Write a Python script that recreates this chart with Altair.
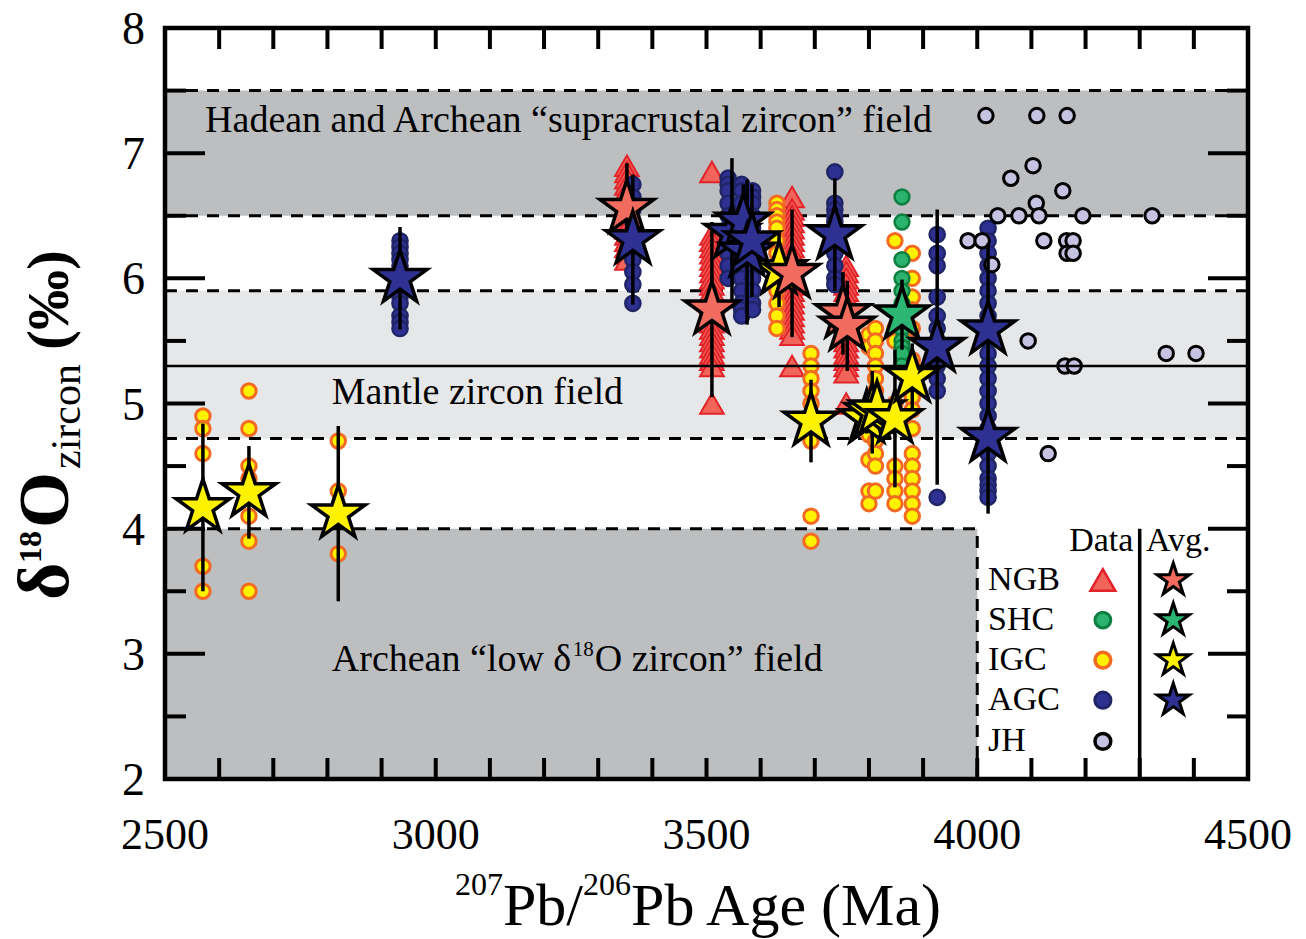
import altair as alt
import pandas as pd

# ---------------- measurements: 207Pb/206Pb age (Ma) vs. zircon d18O (permil) ----------------
# NGB (triangles)
ngb_ages = [3353, 3510, 3658, 3758]
ngb_d18o = [
    [6.90, 6.85, 6.80, 6.75, 6.70, 6.65, 6.60, 6.55, 6.50, 6.45, 6.40, 6.35, 6.30, 6.25, 6.20, 6.15],
    [6.85, 6.35, 6.30, 6.25, 6.20, 6.15, 6.10, 6.05, 6.00, 5.95, 5.90, 5.85, 5.80, 5.75, 5.70,
     5.65, 5.60, 5.55, 5.50, 5.45, 5.40, 5.35, 5.30, 5.00],
    [6.65, 6.55, 6.50, 6.45, 6.40, 6.35, 6.30, 6.25, 6.20, 6.15, 6.10, 6.05, 6.00, 5.95, 5.90,
     5.85, 5.80, 5.75, 5.70, 5.65, 5.60, 5.55, 5.30],
    [6.10, 6.05, 6.00, 5.95, 5.90, 5.85, 5.80, 5.75, 5.70, 5.65, 5.60, 5.55, 5.50, 5.45, 5.40,
     5.35, 5.30, 5.25, 5.00],
]
# SHC
shc_ages = [3861]
shc_d18o = [[6.65, 6.45, 6.15, 6.00, 5.90, 5.80, 5.70, 5.60, 5.50, 5.45, 5.40, 5.30]]
# IGC
igc_ages = [2570, 2655, 2820, 3630, 3693, 3800, 3812, 3848, 3880]
igc_d18o = [
    [4.90, 4.80, 4.60, 3.70, 3.50],
    [5.10, 4.80, 4.50, 4.40, 4.30, 4.10, 3.90, 3.50],
    [4.70, 4.30, 3.80],
    [6.60, 6.55, 6.50, 6.45, 6.40, 6.30, 6.20, 6.10, 6.00, 5.90, 5.80, 5.70, 5.60],
    [5.40, 5.30, 5.20, 5.10, 5.00, 4.90, 4.80, 4.70, 4.10, 3.90],
    [5.55, 5.45, 4.80, 4.75, 4.55, 4.30, 4.20],
    [5.60, 5.50, 5.40, 5.30, 5.20, 5.10, 5.00, 4.70, 4.60, 4.50, 4.30],
    [6.30, 5.60, 5.50, 5.00, 4.90, 4.50, 4.40, 4.30, 4.20],
    [6.20, 6.00, 5.85, 5.75, 5.60, 5.35, 5.30, 5.05, 4.95, 4.80, 4.60, 4.50, 4.40, 4.30, 4.20, 4.10],
]
# AGC
agc_ages = [2934, 3364, 3540, 3565, 3585, 3737, 3926, 4020]
agc_d18o = [
    [6.30, 6.25, 6.20, 6.15, 6.10, 6.00, 5.95, 5.90, 5.85, 5.80, 5.70, 5.65, 5.60],
    [6.75, 6.65, 6.55, 6.45, 6.35, 6.25, 6.15, 6.05, 5.95, 5.80],
    [6.80, 6.75, 6.70, 6.60, 6.50, 6.40, 6.30, 6.20, 6.10, 6.00],
    [6.75, 6.70, 6.60, 6.50, 6.40, 6.30, 6.20, 6.10, 6.00, 5.90, 5.80, 5.75, 5.70],
    [6.70, 6.65, 6.60, 6.50, 6.40, 6.30, 6.20, 6.10, 6.00, 5.90, 5.80, 5.75],
    [6.85, 6.60, 6.55, 6.50, 6.45, 6.40, 6.30, 6.20, 6.10, 6.00, 5.95],
    [6.35, 6.20, 6.10, 5.85, 5.70, 5.60, 5.50, 5.40, 5.30, 5.20, 5.10, 4.25],
    [6.40, 6.30, 6.20, 6.10, 6.00, 5.90, 5.80, 5.70, 5.60, 5.50, 5.40, 5.30, 5.20, 5.10, 5.00,
     4.90, 4.80, 4.70, 4.60, 4.50, 4.40, 4.35, 4.30, 4.25],
]
# JH (individual grains)
jh_ages = [4016, 4110, 4166, 4103, 4062, 4158, 4109, 4038, 4077, 4114, 4195, 4323, 3983,
           4009, 4123, 4165, 4177, 4166, 4177, 4027, 4094, 4162, 4179, 4349, 4404, 4131]
jh_d18o = [7.30, 7.30, 7.30, 6.90, 6.80, 6.70, 6.60, 6.50, 6.50, 6.50, 6.50, 6.50, 6.30,
           6.30, 6.30, 6.30, 6.30, 6.20, 6.20, 6.11, 5.50, 5.30, 5.30, 5.40, 5.40, 4.60]

# Sample averages with 1-sigma spread
ngb_avg_age = [3353, 3510, 3658, 3752, 3760]
ngb_avg = [6.56, 5.75, 6.04, 5.72, 5.62]
ngb_err = [0.36, 0.70, 0.51, 0.33, 0.36]

shc_avg_age = [3861]
shc_avg = [5.71]
shc_err = [0.28]

igc_avg_age = [2570, 2655, 2820, 3634, 3693, 3796, 3806, 3815, 3848, 3880]
igc_avg = [4.17, 4.29, 4.12, 6.07, 4.86, 4.88, 4.93, 4.95, 4.88, 5.21]
igc_err = [0.67, 0.37, 0.70, 0.30, 0.33, 0.12, 0.33, 0.19, 0.55, 0.27]

agc_avg_age = [2934, 3364, 3547, 3568, 3575, 3584, 3737, 3926, 4020, 4020]
agc_avg = [6.00, 6.31, 6.36, 6.45, 6.21, 6.30, 6.35, 5.45, 5.59, 4.73]
agc_err = [0.41, 0.52, 0.60, 0.30, 0.58, 0.45, 0.45, 1.10, 0.69, 0.61]

# Reference fields
supracrustal_field = [6.5, 7.5]
mantle_field = [4.72, 5.9]
mantle_mean = 5.3
low_field_age = [2500, 4000]
low_field_d18o = [2.0, 4.0]

x_ticks = [2500, 3000, 3500, 4000, 4500]
y_ticks = [2, 3, 4, 5, 6, 7, 8]
x_minor_ticks = [2600, 2700, 2800, 2900, 3100, 3200, 3300, 3400, 3600, 3700,
                 3800, 3900, 4100, 4200, 4300, 4400]
y_minor_ticks = [2.5, 3.5, 4.5, 5.5, 6.5, 7.5]

# ---------------- styling ----------------
FONT = "Liberation Serif"
W, H = 1083, 751
DARK_GREY = "#bcbec0"
LIGHT_GREY = "#e6e7e8"
STAR = ("M0,-1L0.2245,-0.309L0.9511,-0.309L0.3633,0.118L0.5878,0.809L0,0.382"
        "L-0.5878,0.809L-0.3633,0.118L-0.9511,-0.309L-0.2245,-0.309Z")

XS = alt.Scale(domain=[2500, 4500], nice=False, zero=False)
YS = alt.Scale(domain=[2, 8], nice=False, zero=False)


def X(field):
    return alt.X(f"{field}:Q", scale=XS, axis=None)


def Y(field):
    return alt.Y(f"{field}:Q", scale=YS, axis=None)


def expand(ages, cols):
    rows = []
    for a, vals in zip(ages, cols):
        for v in vals:
            rows.append({"age": a, "d18o": v})
    return pd.DataFrame(rows)


def averages(ages, vals, errs):
    return pd.DataFrame({"age": ages, "d18o": vals,
                         "lo": [v - e for v, e in zip(vals, errs)],
                         "hi": [v + e for v, e in zip(vals, errs)]})


one = alt.Data(values=[{}])

# ---------------- background fields ----------------
bands_df = pd.DataFrame({
    "x0": [2500, 2500, low_field_age[0]],
    "x1": [4500, 4500, low_field_age[1]],
    "y0": [supracrustal_field[0], mantle_field[0], low_field_d18o[0]],
    "y1": [supracrustal_field[1], mantle_field[1], low_field_d18o[1]],
    "fill": [DARK_GREY, LIGHT_GREY, DARK_GREY],
})
bands = alt.Chart(bands_df).mark_rect().encode(
    x=X("x0"), x2="x1:Q", y=Y("y0"), y2="y1:Q",
    color=alt.Color("fill:N", scale=None),
)

dash_h = pd.DataFrame({
    "y": [supracrustal_field[1], supracrustal_field[0], mantle_field[1], mantle_field[0], low_field_d18o[1]],
    "x0": [2500, 2500, 2500, 2500, low_field_age[0]],
    "x1": [4500, 4500, 4500, 4500, low_field_age[1]],
})
dashed_h = alt.Chart(dash_h).mark_rule(color="black", strokeWidth=3, strokeDash=[12, 9]).encode(
    x=X("x0"), x2="x1:Q", y=Y("y"))
dash_v = pd.DataFrame({"x": [low_field_age[1]], "y0": [low_field_d18o[0]], "y1": [low_field_d18o[1]]})
dashed_v = alt.Chart(dash_v).mark_rule(color="black", strokeWidth=3, strokeDash=[12, 9]).encode(
    x=X("x"), y=Y("y0"), y2="y1:Q")

mantle_line = alt.Chart(pd.DataFrame({"y": [mantle_mean]})).mark_rule(
    color="black", strokeWidth=2.5).encode(y=Y("y"))

# ---------------- individual analyses ----------------
ngb_pts = alt.Chart(expand(ngb_ages, ngb_d18o)).mark_point(
    shape="triangle-up", size=560, filled=True, fill="#f1645a", stroke="#e2232a",
    strokeWidth=2, opacity=1).encode(x=X("age"), y=Y("d18o"))
igc_pts = alt.Chart(expand(igc_ages, igc_d18o)).mark_point(
    shape="circle", size=210, filled=True, fill="#fff200", stroke="#f36a23",
    strokeWidth=3, opacity=1).encode(x=X("age"), y=Y("d18o"))
shc_pts = alt.Chart(expand(shc_ages, shc_d18o)).mark_point(
    shape="circle", size=220, filled=True, fill="#2bb36d", stroke="#0d7f40",
    strokeWidth=2.5, opacity=1).encode(x=X("age"), y=Y("d18o"))
agc_pts = alt.Chart(expand(agc_ages, agc_d18o)).mark_point(
    shape="circle", size=230, filled=True, fill="#2e3192", stroke="#1f2566",
    strokeWidth=2.5, opacity=1).encode(x=X("age"), y=Y("d18o"))
jh_pts = alt.Chart(pd.DataFrame({"age": jh_ages, "d18o": jh_d18o})).mark_point(
    shape="circle", size=210, filled=True, fill="#c5c3e1", stroke="black",
    strokeWidth=3, opacity=1).encode(x=X("age"), y=Y("d18o"))

# ---------------- sample averages ----------------
avg_sets = [
    (averages(igc_avg_age, igc_avg, igc_err), "#fff200"),
    (averages(ngb_avg_age, ngb_avg, ngb_err), "#f26b5f"),
    (averages(shc_avg_age, shc_avg, shc_err), "#2bb673"),
    (averages(agc_avg_age, agc_avg, agc_err), "#2e3192"),
]
all_avg = pd.concat([d for d, _ in avg_sets], ignore_index=True)
err_bars = alt.Chart(all_avg).mark_rule(color="black", strokeWidth=3.5).encode(
    x=X("age"), y=Y("lo"), y2="hi:Q")
stars = [
    alt.Chart(d).mark_point(shape=STAR, size=3200, filled=True, fill=c, stroke="black",
                            strokeWidth=3.5, opacity=1).encode(x=X("age"), y=Y("d18o"))
    for d, c in avg_sets
]

# ---------------- field labels ----------------
field_lbl = pd.DataFrame({
    "age": [2574, 2808],
    "d18o": [7.26, 5.08],
    "label": ["Hadean and Archean \u201csupracrustal zircon\u201d field", "Mantle zircon field"],
})
field_text = alt.Chart(field_lbl).mark_text(
    font=FONT, fontSize=38, align="left", baseline="middle", color="black").encode(
    x=X("age"), y=Y("d18o"), text="label:N")

low_lbl = pd.DataFrame({"age": [2808], "d18o": [2.95]})
low_a = alt.Chart(low_lbl).mark_text(
    font=FONT, fontSize=38, align="left", baseline="middle", color="black",
    text="Archean \u201clow \u03b4").encode(x=X("age"), y=Y("d18o"))
low_b = alt.Chart(low_lbl).mark_text(
    font=FONT, fontSize=21, align="left", baseline="middle", color="black",
    text="18", dx=241, dy=-10).encode(x=X("age"), y=Y("d18o"))
low_c = alt.Chart(low_lbl).mark_text(
    font=FONT, fontSize=38, align="left", baseline="middle", color="black",
    text="O zircon\u201d field", dx=263).encode(x=X("age"), y=Y("d18o"))

# ---------------- legend (drawn inside the plot) ----------------
legend_groups = ["NGB", "SHC", "IGC", "AGC", "JH"]
legend_rows = [3.59, 3.27, 2.95, 2.63, 2.30]
legend_label_age = 4020
legend_data_age = 4232
legend_avg_age = 4362
legend_div_age = 4300

leg_lbl = pd.DataFrame({"age": [legend_label_age] * 5, "d18o": legend_rows, "label": legend_groups})
leg_text = alt.Chart(leg_lbl).mark_text(
    font=FONT, fontSize=34, align="left", baseline="middle", color="black").encode(
    x=X("age"), y=Y("d18o"), text="label:N")
leg_head = alt.Chart(pd.DataFrame({"age": [4229, 4371], "d18o": [3.90, 3.90],
                                   "label": ["Data", "Avg."]})).mark_text(
    font=FONT, fontSize=34, align="center", baseline="middle", color="black").encode(
    x=X("age"), y=Y("d18o"), text="label:N")
leg_div = alt.Chart(pd.DataFrame({"x": [legend_div_age], "y0": [2.0], "y1": [4.0]})).mark_rule(
    color="black", strokeWidth=3.5).encode(x=X("x"), y=Y("y0"), y2="y1:Q")


def leg_point(row, **style):
    return alt.Chart(pd.DataFrame({"age": [legend_data_age], "d18o": [legend_rows[row]]})).mark_point(
        filled=True, opacity=1, **style).encode(x=X("age"), y=Y("d18o"))


leg_syms = [
    leg_point(0, shape="triangle-up", size=620, fill="#f1645a", stroke="#e2232a", strokeWidth=2.5),
    leg_point(1, shape="circle", size=250, fill="#2bb36d", stroke="#0d7f40", strokeWidth=3),
    leg_point(2, shape="circle", size=250, fill="#fff200", stroke="#f36a23", strokeWidth=3.5),
    leg_point(3, shape="circle", size=260, fill="#2e3192", stroke="#1f2566", strokeWidth=3),
    leg_point(4, shape="circle", size=250, fill="#c5c3e1", stroke="black", strokeWidth=3.5),
]
leg_star_cols = ["#f26b5f", "#2bb673", "#fff200", "#2e3192"]
leg_stars = [
    alt.Chart(pd.DataFrame({"age": [legend_avg_age], "d18o": [legend_rows[i]]})).mark_point(
        shape=STAR, size=1150, filled=True, fill=c, stroke="black", strokeWidth=3, opacity=1).encode(
        x=X("age"), y=Y("d18o"))
    for i, c in enumerate(leg_star_cols)
]

# ---------------- inward ticks, tick labels and frame ----------------
y_major = pd.DataFrame({"v": y_ticks})
y_minor = pd.DataFrame({"v": y_minor_ticks})
x_major = pd.DataFrame({"v": x_ticks})
x_minor = pd.DataFrame({"v": x_minor_ticks})


def yticks(df, length):
    left = alt.Chart(df).mark_rule(color="black", strokeWidth=4).encode(
        y=Y("v"), x=alt.value(0), x2=alt.value(length))
    right = alt.Chart(df).mark_rule(color="black", strokeWidth=4).encode(
        y=Y("v"), x=alt.value(W - length), x2=alt.value(W))
    return [left, right]


def xticks(df, length):
    bottom = alt.Chart(df).mark_rule(color="black", strokeWidth=4).encode(
        x=X("v"), y=alt.value(H - length), y2=alt.value(H))
    top = alt.Chart(df).mark_rule(color="black", strokeWidth=4).encode(
        x=X("v"), y=alt.value(0), y2=alt.value(length))
    return [bottom, top]


tick_layers = yticks(y_major, 40) + yticks(y_minor, 21) + xticks(x_major, 21) + xticks(x_minor, 21)

x_labels = alt.Chart(pd.DataFrame({"v": x_ticks, "t": [str(v) for v in x_ticks]})).mark_text(
    font=FONT, fontSize=44, align="center", baseline="alphabetic", color="black").encode(
    x=X("v"), y=alt.value(H + 70), text="t:N")
y_labels = alt.Chart(pd.DataFrame({"v": y_ticks, "t": [str(v) for v in y_ticks]})).mark_text(
    font=FONT, fontSize=46, align="right", baseline="alphabetic", color="black", dy=16).encode(
    y=Y("v"), x=alt.value(-20), text="t:N")

frame = alt.Chart(one).mark_rect(fillOpacity=0, stroke="black", strokeWidth=4.5).encode(
    x=alt.value(0), x2=alt.value(W), y=alt.value(0), y2=alt.value(H))


# ---------------- axis titles (composed for super/subscripts) ----------------
def piece(text, x, y, size, weight="normal", angle=0):
    return alt.Chart(one).mark_text(
        text=text, font=FONT, fontSize=size, fontWeight=weight, angle=angle,
        align="left", baseline="alphabetic", color="black").encode(
        x=alt.value(x), y=alt.value(y))


# x title: 207Pb/206Pb Age (Ma)
xt_left = 455 - 165
xt_base = 925 - 28
sup, big = 32, 60
x_title = [
    piece("207", xt_left, xt_base - 30, sup),
    piece("Pb/", xt_left + 1.5 * sup, xt_base, big),
    piece("206", xt_left + 1.5 * sup + 1.334 * big, xt_base - 30, sup),
    piece("Pb Age (Ma)", xt_left + 3.0 * sup + 1.334 * big, xt_base, big),
]
# y title: d18O_zircon (permil), rotated
y_title = [
    piece("\u03b4", 68 - 165, 600 - 28, 72, "bold", 270),
    piece("18", 41 - 165, 563 - 28, 32, "bold", 270),
    piece("O", 68 - 165, 528 - 28, 72, "bold", 270),
    piece("zircon", 80 - 165, 469 - 28, 42, "normal", 270),
    piece("(\u2030)", 68 - 165, 350 - 28, 60, "bold", 270),
]

chart = alt.layer(
    bands, dashed_h, dashed_v, leg_div,
    ngb_pts, igc_pts, shc_pts, agc_pts, jh_pts,
    mantle_line, err_bars, *stars,
    field_text, low_a, low_b, low_c,
    leg_text, leg_head, *leg_syms, *leg_stars,
    *tick_layers, frame, x_labels, y_labels, *x_title, *y_title,
).properties(
    width=W, height=H,
    autosize=alt.AutoSizeParams(type="none"),
    padding={"left": 165, "top": 28, "right": 58, "bottom": 160},
    background="white",
).configure_view(strokeWidth=0)

chart.save("out.html", embed_options={"renderer": "svg", "actions": False})
